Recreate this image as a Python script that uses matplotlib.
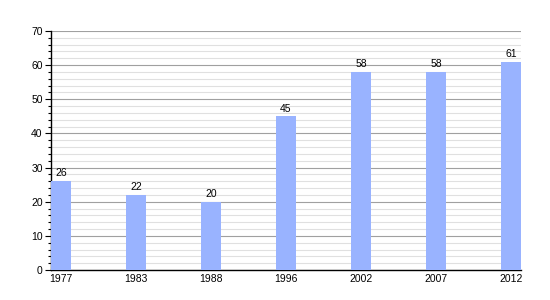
import matplotlib.pyplot as plt
import numpy as np

anios = ['1977', '1983', '1988', '1996', '2002', '2007', '2012']
valores = [26, 22, 20, 45, 58, 58, 61]

plt.rcParams['font.family'] = ['Liberation Sans', 'DejaVu Sans']

fig = plt.figure(figsize=(5.5, 3), dpi=100)
ax = fig.add_axes([51 / 550, 30 / 300, 470 / 550, 239 / 300])

x = np.arange(len(anios))
ancho = 20 / 75
ax.bar(x, valores, width=ancho, color='#99b3ff', zorder=3)

for xi, v in zip(x, valores):
    ax.text(xi, v + 0.8, str(v), ha='center', va='bottom', fontsize=7.5, zorder=4)

ax.set_xlim(-ancho / 2, len(anios) - 1 + ancho / 2)
ax.set_ylim(0, 70)
ax.set_yticks(range(0, 71, 10))
ax.set_yticks(range(0, 71, 2), minor=True)
ax.set_xticks(x)
ax.set_xticklabels(anios)

ax.grid(axis='y', which='major', color='#a0a0a0', linewidth=0.8, zorder=0)
ax.grid(axis='y', which='minor', color='#e0e0e0', linewidth=0.8, zorder=0)

for lado in ['top', 'right']:
    ax.spines[lado].set_visible(False)
ax.spines['left'].set_linewidth(1)
ax.spines['bottom'].set_linewidth(1)

ax.tick_params(axis='y', which='major', length=4, width=0.8, labelsize=7.5, pad=2)
ax.tick_params(axis='y', which='minor', length=2.5, width=0.8)
ax.tick_params(axis='x', length=0, labelsize=7.5, pad=3)

plt.savefig('out.png', dpi=100)
plt.close()
